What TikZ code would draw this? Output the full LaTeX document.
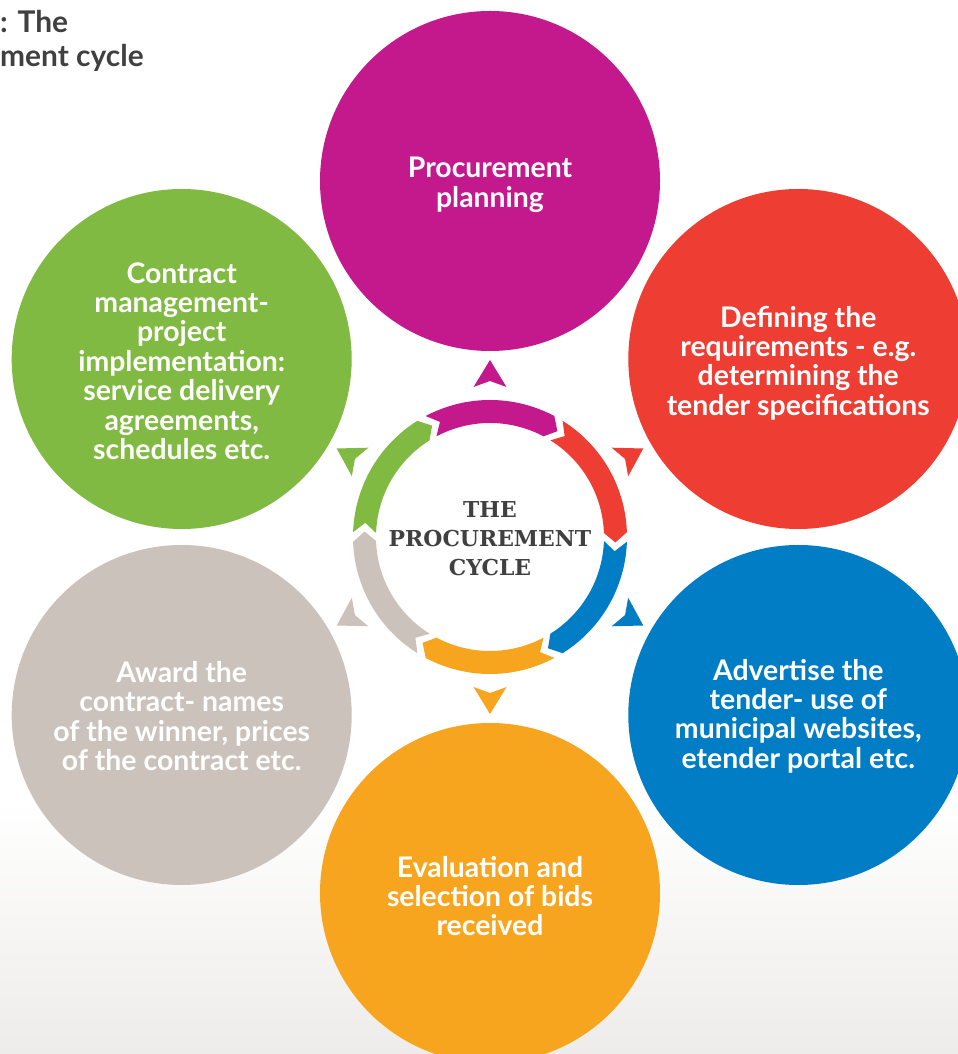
\documentclass[tikz,border=0pt]{standalone}
\usepackage{fontspec}
\setmainfont{Lato}
\newfontfamily\slabfont{DejaVu Serif}
\definecolor{cMag}{HTML}{C4198D}
\definecolor{cRed}{HTML}{EE3E33}
\definecolor{cBlue}{HTML}{007DC5}
\definecolor{cOrange}{HTML}{F7A51F}
\definecolor{cGray}{HTML}{CCC2BC}
\definecolor{cGreen}{HTML}{80BA42}
\definecolor{cText}{HTML}{404041}
\definecolor{cBg}{HTML}{EEECEA}
\begin{document}
\begin{tikzpicture}[x=1bp,y=1bp,
  bigcircle/.style={circle, minimum size=340bp, inner sep=0pt, fill=#1},
  circtext/.style={text=white, font=\fontsize{28.5}{29.5}\selectfont\bfseries, align=center, inner sep=0pt},
  centretext/.style={text=cText, font=\slabfont\bfseries\fontsize{22}{29}\selectfont, align=center},
  captiontext/.style={anchor=base west, inner sep=0pt, text=cText, font=\fontsize{30}{30}\selectfont\bfseries}
]
\useasboundingbox (0,0) rectangle (958,1054);
\clip (0,0) rectangle (958,1054);
\fill[white] (0,0) rectangle (958,1054);
\shade[top color=white, bottom color=cBg] (0,0) rectangle (958,254);

\node[captiontext] (cap1) at (0,1021) {: The};
\node[captiontext] (cap2) at (0,987) {ment cycle};

\begin{scope}[shift={(490,517)}]
  % big circles
  \node[bigcircle=cMag]    (plan)   at (90:356)   {};
  \node[bigcircle=cRed]    (define) at (30:356)   {};
  \node[bigcircle=cBlue]   (advert) at (-30:356)  {};
  \node[bigcircle=cOrange] (eval)   at (-90:356)  {};
  \node[bigcircle=cGray]   (award)  at (-150:356) {};
  \node[bigcircle=cGreen]  (manage) at (150:356)  {};

  \node[circtext] (planT)   at ([yshift=-4bp]plan.center)   {Procurement\\planning};
  \node[circtext] (defineT) at ([yshift=-4bp]define.center) {Defining the\\requirements - e.g.\\determining the\\tender specifications};
  \node[circtext] (advertT) at ([yshift=-1bp]advert.center) {Advertise the\\tender- use of\\municipal websites,\\etender portal etc.};
  \node[circtext] (evalT)   at ([yshift=-3bp]eval.center)   {Evaluation and\\selection of bids\\received};
  \node[circtext] (awardT)  at ([yshift=-1bp]award.center)  {Award the\\contract- names\\of the winner, prices\\of the contract etc.};
  \node[circtext] (manageT) at ([yshift=-2bp]manage.center) {Contract\\management-\\project\\implementation:\\service delivery\\agreements,\\schedules etc.};

  % ring segments
  \foreach \B/\col in {120/cMag, 60/cRed, 0/cBlue, -60/cOrange, -120/cGray, 180/cGreen} {
    \pgfmathsetmacro\aS{\B-2}
    \pgfmathsetmacro\aE{\B-58}
    \pgfmathsetmacro\aP{\aE-4.5}
    \pgfmathsetmacro\aN{\aS-4.5}
    \fill[\col] (\aS:137) arc[start angle=\aS, end angle=\aE, radius=137]
      -- (\aP:125.5) -- (\aE:114)
      arc[start angle=\aE, end angle=\aS, radius=114]
      -- (\aN:125.5) -- cycle;
  }

  % outward arrowheads
  \foreach \a/\col in {90/cMag, 30/cRed, -30/cBlue, -90/cOrange, -150/cGray, 150/cGreen} {
    \fill[\col, rotate=\a-90] (0,177) -- (16.5,150) -- (0,156) -- (-16.5,150) -- cycle;
  }

  \node[centretext] (cycle) at (0,-2) {THE\\PROCUREMENT\\CYCLE};
\end{scope}
\end{tikzpicture}
\end{document}
